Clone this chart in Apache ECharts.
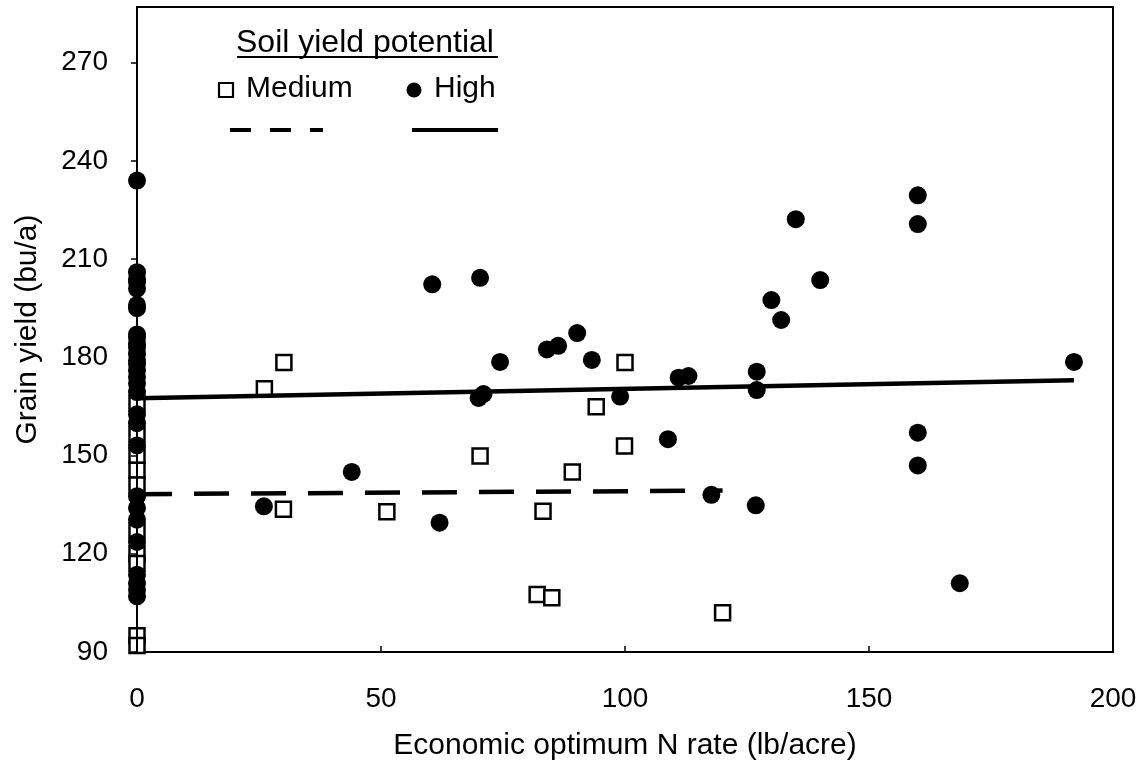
<!DOCTYPE html>
<html>
<head>
<meta charset="utf-8">
<script src="https://cdn.jsdelivr.net/npm/echarts@6/dist/echarts.min.js"></script>
<style>
html,body{margin:0;padding:0;background:#fff;}
#chart{width:1146px;height:776px;}
</style>
</head>
<body>
<div id="chart"></div>
<script>
// ---- data ----
var highN = [0,0,0,0,0,0,0,0,0,0,0,0,0,0,0,0,0,0,0,0,0,0,0,0,0,0,0,0,0,
  26,44,60.5,62,70.3,70,71,74.4,84,86.3,90.2,93.2,99,108.8,111,113,117.7,127,127,126.8,130,132,135,140,160,160,160,160,168.6,192];
var highYield = [234,206,204,203,201,196,195,187,186,184,183,181,179,178,176,174,172,169.4,162.6,159.9,153.1,137.6,134,130.4,123.6,113.6,111,109,107,
  134.5,145,202.3,129.5,204.3,167.6,168.8,178.6,182.4,183.5,187.4,179.2,168,155,173.8,174.3,138,175.6,170,134.8,197.5,191.4,222.2,203.6,229.5,220.7,157,147,111,178.6];

var medN = [0,0,0,0,0,0,0,0,0,0,
  26.1,30.1,30,51.2,70.3,83.2,82,85,89.2,94.1,100,99.9,120];
var medYield = [166,156.5,150,145.5,141,127,120,117,95,92,
  170.4,178.4,133.6,132.8,149.9,133,107.6,106.6,145,164.9,178.4,152.9,102];

var highTrendX = [0, 192];
var highTrendY = [167.5, 173];
var medTrendX = [0, 120];
var medTrendY = [138.2, 139.3];

var xTicks = [0, 50, 100, 150, 200];
var yTicks = [90, 120, 150, 180, 210, 240, 270];

function zip(a, b) { return a.map(function (v, i) { return [v, b[i]]; }); }

var FONT = "'Liberation Sans', Arial, Helvetica, sans-serif";
var chart = echarts.init(document.getElementById('chart'), null, {renderer: 'canvas'});

var option = {
  animation: false,
  backgroundColor: '#fff',
  grid: {
    left: 137, right: 33, top: 7, bottom: 124,
    show: true, borderColor: '#000', borderWidth: 2, backgroundColor: 'transparent'
  },
  xAxis: {
    type: 'value', min: 0, max: 200, interval: 50,
    name: 'Economic optimum N rate (lb/acre)',
    nameLocation: 'middle', nameGap: 79,
    nameTextStyle: {fontFamily: FONT, fontSize: 30, color: '#000'},
    axisLine: {show: true, lineStyle: {color: '#000', width: 2}},
    axisTick: {show: true, inside: true, length: 6, lineStyle: {color: '#000', width: 1.5}, customValues: xTicks},
    axisLabel: {fontFamily: FONT, fontSize: 28, color: '#000', margin: 33, customValues: xTicks},
    splitLine: {show: false}
  },
  yAxis: {
    type: 'value', min: 90, max: 287, interval: 30,
    z: 5,
    name: 'Grain yield (bu/a)',
    nameLocation: 'middle', nameGap: 94,
    nameTextStyle: {fontFamily: FONT, fontSize: 30, color: '#000'},
    axisLine: {show: true, lineStyle: {color: '#000', width: 2}},
    axisTick: {show: true, inside: false, length: 6, lineStyle: {color: '#000', width: 1.5}, customValues: yTicks},
    axisLabel: {fontFamily: FONT, fontSize: 28, color: '#000', margin: 29, customValues: yTicks},
    splitLine: {show: false}
  },
  series: [
    {
      name: 'Medium', type: 'scatter', z: 2,
      symbol: 'rect', symbolSize: 15,
      itemStyle: {color: '#fff', borderColor: '#000', borderWidth: 2.5, opacity: 1},
      emphasis: {disabled: true},
      data: zip(medN, medYield)
    },
    {
      name: 'High', type: 'scatter', z: 3,
      symbol: 'circle', symbolSize: 18,
      itemStyle: {color: '#000', opacity: 1},
      emphasis: {disabled: true},
      data: zip(highN, highYield)
    },
    {
      name: 'High trend', type: 'line', z: 4, symbol: 'none',
      lineStyle: {color: '#000', width: 4.5},
      data: zip(highTrendX, highTrendY)
    },
    {
      name: 'Medium trend', type: 'line', z: 4, symbol: 'none',
      lineStyle: {color: '#000', width: 4.5, type: [35, 22]},
      data: zip(medTrendX, medTrendY)
    }
  ],
  graphic: [
    {type: 'text', left: 236, top: 27, z: 10,
      style: {text: 'Soil yield potential', font: '32px ' + FONT, fill: '#000'}},
    {type: 'line', z: 10, shape: {x1: 237, y1: 57, x2: 498, y2: 57}, style: {stroke: '#000', lineWidth: 2}},
    {type: 'rect', z: 10, shape: {x: 219, y: 83, width: 14, height: 14}, style: {fill: '#fff', stroke: '#000', lineWidth: 2.2}},
    {type: 'text', left: 246, top: 74, z: 10,
      style: {text: 'Medium', font: '30px ' + FONT, fill: '#000'}},
    {type: 'circle', z: 10, shape: {cx: 414, cy: 90, r: 7.5}, style: {fill: '#000'}},
    {type: 'text', left: 434, top: 74, z: 10,
      style: {text: 'High', font: '30px ' + FONT, fill: '#000'}},
    {type: 'line', z: 10, shape: {x1: 230, y1: 130, x2: 323, y2: 130}, style: {stroke: '#000', lineWidth: 4, lineDash: [21, 19]}},
    {type: 'line', z: 10, shape: {x1: 412, y1: 130, x2: 498, y2: 130}, style: {stroke: '#000', lineWidth: 4}}
  ]
};
chart.setOption(option);
</script>
</body>
</html>
